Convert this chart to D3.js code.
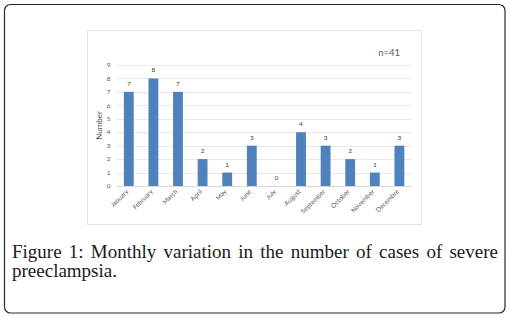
<!DOCTYPE html>
<html>
<head>
<meta charset="utf-8">
<script src="https://cdn.jsdelivr.net/npm/d3@7"></script>
<style>
  html, body { margin: 0; padding: 0; background: #fff; }
  svg { display: block; }
</style>
</head>
<body>
<svg id="chart"></svg>
<script>
// ---- data ----
const months = ["January", "February", "March", "April", "May", "June",
                "July", "August", "September", "October", "November", "Decembre"];
const cases = [7, 8, 7, 2, 1, 3, 0, 4, 3, 2, 1, 3];
const yTicks = [0, 1, 2, 3, 4, 5, 6, 7, 8, 9];
const nLabel = "n=41";
const yTitle = "Number";
const captionLead = "Figure 1:";
const captionLine1 = "Monthly variation in the number of cases of severe";
const captionLine2 = "preeclampsia.";

const width = 510, height = 317;
const svg = d3.select("#chart").attr("width", width).attr("height", height);

// outer frame
svg.append("rect")
  .attr("x", 4.5).attr("y", 4.5)
  .attr("width", 500.5).attr("height", 308.5)
  .attr("rx", 6)
  .attr("fill", "none")
  .attr("stroke", "#2b2b2b")
  .attr("stroke-width", 1.2);

// chart area frame
svg.append("rect")
  .attr("x", 87.5).attr("y", 30.5)
  .attr("width", 334).attr("height", 194)
  .attr("fill", "#fff")
  .attr("stroke", "#e4e4e4")
  .attr("stroke-width", 1);

const x = d3.scaleBand()
  .domain(months)
  .range([116.5, 411.7])
  .paddingInner(0.6)
  .paddingOuter(0.3);

const y = d3.scaleLinear()
  .domain([0, 9])
  .range([186, 65]);

const font = "Lato, 'Open Sans', sans-serif";

// gridlines
svg.append("g")
  .selectAll("line")
  .data(yTicks)
  .join("line")
  .attr("x1", 116.5).attr("x2", 411.7)
  .attr("y1", d => Math.round(y(d)) + 0.5)
  .attr("y2", d => Math.round(y(d)) + 0.5)
  .attr("stroke", d => d === 0 ? "#d9d9d9" : "#e8e8e8")
  .attr("stroke-width", 1);

// y tick labels
svg.append("g")
  .selectAll("text")
  .data(yTicks)
  .join("text")
  .attr("x", 110.5)
  .attr("y", d => y(d))
  .attr("dy", "0.35em")
  .attr("text-anchor", "end")
  .style("font-family", font)
  .style("font-size", "6.5px")
  .style("fill", "#595959")
  .text(d => d);

// y title
svg.append("text")
  .attr("transform", `translate(102, ${(y(0) + y(9)) / 2}) rotate(-90)`)
  .attr("text-anchor", "middle")
  .style("font-family", font)
  .style("font-size", "8px")
  .style("fill", "#595959")
  .text(yTitle);

// bars
svg.append("g")
  .selectAll("rect")
  .data(cases)
  .join("rect")
  .attr("x", (d, i) => x(months[i]))
  .attr("y", d => y(d))
  .attr("width", x.bandwidth())
  .attr("height", d => y(0) - y(d))
  .attr("fill", "#4f81bd");

// value labels
svg.append("g")
  .selectAll("text")
  .data(cases)
  .join("text")
  .attr("x", (d, i) => x(months[i]) + x.bandwidth() / 2)
  .attr("y", d => y(d) - 6)
  .attr("text-anchor", "middle")
  .style("font-family", font)
  .style("font-size", "6.5px")
  .style("fill", "#404040")
  .text(d => d);

// x labels
svg.append("g")
  .selectAll("text")
  .data(months)
  .join("text")
  .attr("transform", d => `translate(${x(d) + x.bandwidth() / 2}, 192) rotate(-45)`)
  .attr("text-anchor", "end")
  .style("font-family", font)
  .style("font-size", "6.5px")
  .style("fill", "#595959")
  .text(d => d);

// n label
svg.append("text")
  .attr("x", 400)
  .attr("y", 56)
  .attr("text-anchor", "end")
  .style("font-family", font)
  .style("font-size", "9.5px")
  .style("fill", "#595959")
  .text(nLabel);

// caption, justified first line
const capFont = "'Liberation Serif', 'DejaVu Serif', serif";
const capSize = "19px";
const capLeft = 12, capRight = 498;
const capG = svg.append("g");

const words = captionLead.split(" ").concat(captionLine1.split(" "));
const wordNodes = capG.selectAll("text.w")
  .data(words)
  .join("text")
  .attr("class", "w")
  .attr("y", 258)
  .style("font-family", capFont)
  .style("font-size", capSize)
  .style("fill", "#1a1a1a")
  .text(d => d);
const widths = wordNodes.nodes().map(n => n.getComputedTextLength());
const gap = Math.max(4, (capRight - capLeft - d3.sum(widths)) / (words.length - 1));
let cx = capLeft;
wordNodes.attr("x", (d, i) => {
  const pos = cx;
  cx += widths[i] + gap;
  return pos;
});

capG.append("text")
  .attr("x", capLeft)
  .attr("y", 277)
  .style("font-family", capFont)
  .style("font-size", capSize)
  .style("fill", "#1a1a1a")
  .text(captionLine2);
</script>
</body>
</html>
